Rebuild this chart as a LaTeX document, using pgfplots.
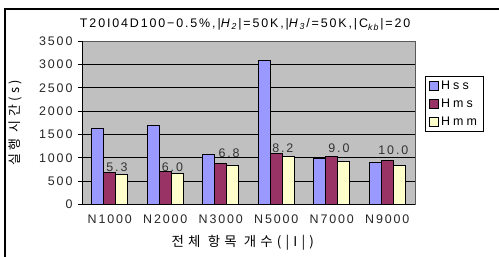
\documentclass[border=0pt]{standalone}
\usepackage{fontspec}
\setmainfont{Liberation Sans}[LetterSpace=15]
\newfontfamily\legf{Liberation Sans}[LetterSpace=25]
\newfontfamily\kr{Noto Sans CJK KR}[LetterSpace=31]
\newfontfamily\kry{Noto Sans CJK KR}[LetterSpace=26]
\usepackage{pgfplots}
\pgfplotsset{compat=1.18}
\definecolor{bgc}{RGB}{192,192,192}
\definecolor{hss}{RGB}{153,153,255}
\definecolor{hms}{RGB}{153,51,102}
\definecolor{hmm}{RGB}{255,255,204}
\begin{document}
\begin{tikzpicture}
\begin{axis}[
  at={(82bp,-204.5bp)}, anchor=south west,
  scale only axis, width=333bp, height=163.5bp,
  xmin=-0.5, xmax=5.5, ymin=0, ymax=3500,
  ytick={0,500,...,3500},
  xtick={0,...,5},
  xticklabels={N1000,N2000,N3000,N5000,N7000,N9000},
  x tick style={draw=none},
  extra x ticks={0.5,1.5,2.5,3.5,4.5},
  extra x tick labels={},
  extra x tick style={tick style={draw=black,line width=0.8bp}, major tick length=4bp},
  xtick pos=bottom, ytick pos=left,
  tick align=outside, major tick length=4bp,
  y tick style={black, line width=0.8bp},
  ymajorgrids, grid style={black, line width=0.8bp},
  axis background/.style={fill=bgc},
  axis line style={draw=gray!70!black, line width=0.8bp},
  /pgf/number format/1000 sep={},
  /pgf/number format/assume math mode=true,
  tick label style={font=\fontsize{12.5}{14}\selectfont, text=black!85},
  xticklabel style={yshift=-3bp},
  yticklabel style={xshift=-2bp},
  every axis y label/.style={at={(axis description cs:-0.201,0.5)}, rotate=90, anchor=center},
  every axis x label/.style={at={(axis description cs:0.483,-0.2355)}, anchor=center},
  ylabel={\kry\fontsize{13}{15}\selectfont 실행 시간(s)},
  xlabel={\kr\fontsize{13.5}{15}\selectfont 전체 항목 개수(|I|)},
  title={\fontsize{12.5}{14}\selectfont T20I04D100−0.5\%,|\textit{H}\textsubscript{\textit{2}}|=50K,|\textit{H}\textsubscript{\textit{3}}/=50K,|C\textsubscript{\textit{kb}}|=20},
  every axis title/.style={at={(axis description cs:0.49,1.10)}, anchor=center},
  legend style={at={(axis description cs:1.03,0.785)}, anchor=north west, draw=black, line width=0.6bp, font=\legf\fontsize{12.5}{14}\selectfont, row sep=4bp, inner xsep=4bp, inner ysep=2.5bp},
  legend cell align=left,
  legend image code/.code={\draw[#1, draw=black, line width=0.8bp] (0bp,-4.5bp) rectangle (9bp,4.5bp);},
]
\addplot[ybar, bar width=12bp, bar shift=-12bp, fill=hss, draw=black, line width=1bp]
  coordinates {(0,1620) (1,1692) (2,1064) (3,3073) (4,994) (5,908)};
\addlegendentry{Hss}
\addplot[ybar, bar width=12bp, bar shift=0bp, fill=hms, draw=black, line width=1bp]
  coordinates {(0,680) (1,716) (2,872) (3,1094) (4,1022) (5,936)};
\addlegendentry{Hms}
\addplot[ybar, bar width=12bp, bar shift=12bp, fill=hmm, draw=black, line width=1bp]
  coordinates {(0,637) (1,658) (2,829) (3,1022) (4,915) (5,829)};
\addlegendentry{Hmm}
\addplot[draw=none, mark=none, forget plot, nodes near coords, point meta=explicit symbolic,
  nodes near coords style={anchor=center, font=\fontsize{12.5}{14}\selectfont, text=black!80}]
  coordinates {(0.13,808)[5.3] (1.13,808)[6.0] (2.15,1107)[6.8] (3.12,1201)[8.2] (4.13,1201)[9.0] (5.11,1165)[10.0]};
\draw[black, line width=1.2bp] (rel axis cs:0,1) -- (rel axis cs:0,0) -- (rel axis cs:1,0);
\end{axis}
\pgfresetboundingbox
\useasboundingbox (0,0) rectangle (499bp,-257bp);
\draw[black, line width=2bp] (4.5bp,-257bp) -- (4.5bp,-9bp) -- (499bp,-9bp);
\end{tikzpicture}
\end{document}
